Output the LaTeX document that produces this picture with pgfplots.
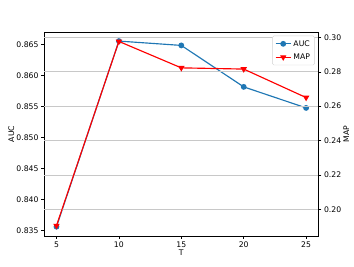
\documentclass[border=0pt]{standalone}
\usepackage{fontspec}
\setmainfont{DejaVu Sans}
\usepackage{pgfplots}
\pgfplotsset{compat=1.18}
\definecolor{mplblue}{HTML}{1F77B4}
\definecolor{gridgray}{HTML}{C8C8C8}
\begin{document}
\fontsize{7.7pt}{9pt}\selectfont
\begin{tikzpicture}
\useasboundingbox (0,0) rectangle (354pt,266pt);
\pgfplotsset{
  common/.style={
    at={(44pt,30pt)}, anchor=south west,
    scale only axis, width=274.6pt, height=204.2pt,
    xmin=4, xmax=26,
    tick align=outside,
    major tick length=2.7pt,
    every tick/.style={black, line width=0.6pt},
    axis line style={line width=0.6pt},
    tick label style={font=\fontsize{7.7pt}{9pt}\selectfont},
    label style={font=\fontsize{7.7pt}{9pt}\selectfont},
    /pgf/number format/assume math mode=true,
  }
}
\begin{axis}[
  common,
  xtick={5,10,15,20,25},
  xtick pos=bottom,
  ytick pos=left,
  ymin=0.8341, ymax=0.8671,
  ytick={0.835,0.840,0.845,0.850,0.855,0.860,0.865},
  yticklabel style={/pgf/number format/fixed, /pgf/number format/fixed zerofill, /pgf/number format/precision=3},
  xlabel={T}, ylabel={AUC},
  xlabel style={yshift=3pt},
  ylabel style={yshift=-3pt},
]
\addplot[color=mplblue, line width=1.15pt, mark=*, mark size=2.3pt, mark options={solid}]
  coordinates {(5,0.8356) (10,0.8656) (15,0.8649) (20,0.8582) (25,0.8548)};
\end{axis}
\begin{axis}[
  common,
  axis x line=none,
  axis y line*=right,
  ymin=0.1844, ymax=0.3033,
  ytick={0.20,0.22,0.24,0.26,0.28,0.30},
  yticklabel style={/pgf/number format/fixed, /pgf/number format/fixed zerofill, /pgf/number format/precision=2},
  ymajorgrids,
  grid style={gridgray, line width=0.7pt},
  ylabel={MAP},
  ylabel style={yshift=3pt},
  legend style={at={(0.986,0.981)}, anchor=north east, draw=gray!35, rounded corners=1.5pt,
    font=\fontsize{7.7pt}{9pt}\selectfont, inner sep=2.5pt, row sep=2.5pt},
  legend cell align=left,
  legend image code/.code={\draw[mark repeat=2, mark phase=2] plot coordinates {(0pt,0pt) (7.7pt,0pt) (15.4pt,0pt)};},
]
\addlegendimage{color=mplblue, line width=1.15pt, mark=*, mark size=2.3pt}
\addlegendentry{AUC}
\addplot[color=red, line width=1.15pt, mark=triangle*, mark size=2.6pt, mark options={solid, rotate=180}]
  coordinates {(5,0.1904) (10,0.2977) (15,0.2823) (20,0.2816) (25,0.2650)};
\addlegendentry{MAP}
\end{axis}
\end{tikzpicture}
\end{document}
